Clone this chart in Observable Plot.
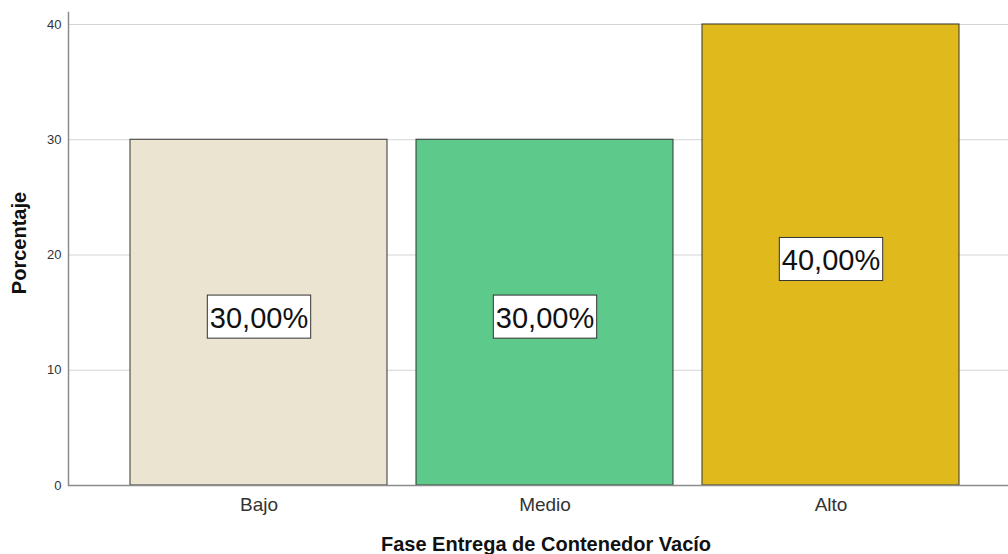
<!DOCTYPE html>
<html>
<head>
<meta charset="utf-8">
<script src="https://cdn.jsdelivr.net/npm/d3@7"></script>
<script src="https://cdn.jsdelivr.net/npm/@observablehq/plot@0.6"></script>
<style>
  html, body { margin: 0; padding: 0; background: #fff; }
  #chart { width: 1008px; height: 554px; position: relative; }
  svg { font-family: Arial, "Liberation Sans", sans-serif; }
</style>
</head>
<body>
<div id="chart"></div>
<script>
const categories = ["Bajo", "Medio", "Alto"];
const percentages = [30, 30, 40];
const labels = ["30,00%", "30,00%", "40,00%"];
const colors = ["#EAE4D0", "#5DCA8B", "#E0BA1D"];
const yTicks = [0, 10, 20, 30, 40];
const xTitle = "Fase Entrega de Contenedor Vacío";
const yTitle = "Porcentaje";

const data = categories.map((c, i) => ({cat: c, value: percentages[i], label: labels[i], color: colors[i]}));

const LABEL_FS = 29;

const chart = Plot.plot({
  width: 1008,
  height: 554,
  marginLeft: 68,
  marginRight: 0,
  marginTop: 12,
  marginBottom: 69,
  style: {fontFamily: "Arial, 'Liberation Sans', sans-serif", background: "#fff"},
  x: {domain: categories, range: [72.8, 1016.2], paddingInner: 0.1014, paddingOuter: 0.2, round: false, label: null},
  y: {domain: [0, 41.04], label: null},
  marks: [
    Plot.ruleY(yTicks.filter(d => d > 0), {stroke: "#d4d4d4", strokeWidth: 1}),
    Plot.barY(data, {x: "cat", y: "value", fill: "color", stroke: "#333", strokeWidth: 1}),
    Plot.ruleY([0], {stroke: "#8c8c8c", strokeWidth: 1.5}),
    Plot.frame({anchor: "left", stroke: "#8c8c8c", strokeWidth: 1.5}),
    Plot.axisY(yTicks, {tickSize: 0, tickPadding: 7, fontSize: 13, fill: "#333", label: null}),
    Plot.axisX({tickSize: 0, tickPadding: 12, fontSize: 19, fill: "#333", label: null}),
    Plot.text(data, {x: "cat", y: d => d.value / 2, text: "label", fontSize: LABEL_FS, fill: "#111", dy: 6, className: "vlabel"})
  ]
});

document.getElementById("chart").appendChild(chart);

// white boxes behind value labels, sized from the rendered text
d3.select(chart).selectAll(".vlabel text").each(function() {
  const b = this.getBBox();
  const baseline = b.y + 0.905 * LABEL_FS;
  const top = baseline - 1.14 * LABEL_FS;
  const bottom = baseline + 0.345 * LABEL_FS;
  d3.select(this.parentNode).insert("rect", () => this)
    .attr("x", b.x - 2.5).attr("y", top)
    .attr("width", b.width + 5).attr("height", bottom - top)
    .attr("fill", "#fff").attr("stroke", "#333").attr("stroke-width", 1)
    .attr("transform", this.getAttribute("transform"));
});

const svg = d3.select(chart);
svg.append("text")
  .attr("x", 546).attr("y", 551)
  .attr("text-anchor", "middle")
  .attr("font-size", 20).attr("font-weight", "bold").attr("fill", "#111")
  .text(xTitle);
svg.append("text")
  .attr("transform", "translate(26,243) rotate(-90)")
  .attr("text-anchor", "middle")
  .attr("font-size", 20).attr("font-weight", "bold").attr("fill", "#111")
  .text(yTitle);
</script>
</body>
</html>
